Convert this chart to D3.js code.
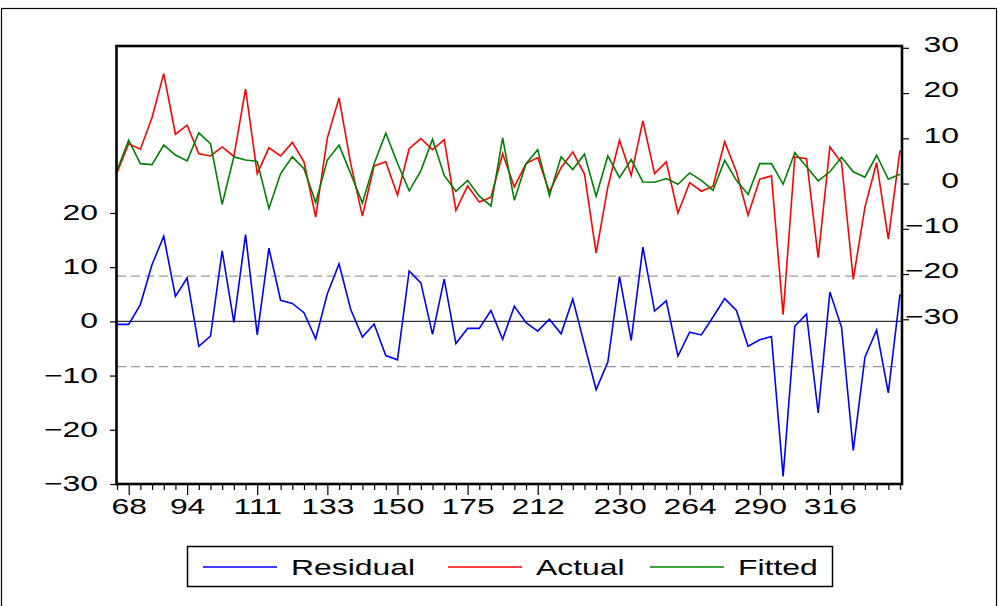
<!DOCTYPE html>
<html><head><meta charset="utf-8">
<script src="https://cdn.jsdelivr.net/npm/d3@7"></script>
<style>body{margin:0;background:#fff}svg{display:block}</style>
</head><body>
<svg id="c" width="999" height="606"></svg>
<script>
const residual = [-0.55,-0.55,3.1,10.5,15.7,4.6,8.0,-4.6,-2.7,13.0,
  -0.2,16.0,-2.5,13.5,3.9,3.3,1.6,-3.2,5.1,10.6,
  2.2,-2.9,-0.5,-6.3,-7.1,9.3,7.1,-2.4,7.8,-4.1,
  -1.3,-1.3,2.0,-3.3,2.8,-0.25,-1.8,0.4,-2.3,4.1,
  -4.3,-12.6,-7.5,8.3,-3.5,13.7,1.9,3.8,-6.4,-2.0,
  -2.5,0.8,4.2,2.0,-4.6,-3.4,-2.8,-28.6,-0.9,1.35,
  -16.9,5.4,-1.1,-23.8,-6.6,-1.6,-13.2,5.0];
const actual = [2.4,8.8,7.6,14.6,24.3,10.9,12.9,6.6,6.1,8.1,
  6.0,20.9,2.2,7.9,6.1,9.1,4.8,-7.4,10.1,18.9,
  4.4,-7.2,3.9,4.8,-2.6,7.7,9.95,7.5,9.7,-5.9,
  -0.5,-4.1,-3.0,6.6,-0.75,4.4,5.75,-1.85,3.5,7.0,
  2.1,-15.4,-0.75,9.6,1.8,13.85,2.2,4.8,-6.5,0.2,
  -1.7,-0.6,9.2,2.6,-7.0,0.95,1.7,-29.0,5.9,5.5,
  -16.4,8.1,4.6,-21.2,-5.2,4.6,-12.3,7.4];
const fitted = [2.9,9.6,4.4,4.2,8.5,6.3,5.0,11.2,8.8,-4.6,
  5.9,5.2,4.9,-5.5,2.2,5.9,3.3,-4.2,5.2,8.5,
  2.2,-4.3,4.4,11.1,4.5,-1.6,2.8,9.8,1.8,-1.7,
  0.7,-2.8,-4.95,10.1,-3.7,4.4,7.5,-2.7,5.9,3.1,
  6.5,-2.8,6.1,1.3,5.3,0.35,0.3,1.1,-0.15,2.35,
  0.7,-1.5,5.15,0.7,-2.4,4.4,4.4,-0.15,6.85,3.7,
  0.6,2.6,5.8,2.6,1.4,6.25,0.95,2.05];
const xTickIndex = [1,6,12,18,24,30,36,43,49,55,61];
const xTickLabels = ["68","94","111","133","150","175","212","230","264","290","316"];
const leftTicks = [20,10,0,-10,-20,-30];
const rightTicks = [30,20,10,0,-10,-20,-30];
const residSD = 8.34;
const seriesNames = ["Residual","Actual","Fitted"];
const seriesColors = ["#0000ff","#ff0000","#008000"];

const svg = d3.select("#c");
const L = 117, R = 902, T = 46, B = 484;
const SX = 1.45, FS = 22, FF = "'Liberation Sans', Arial, sans-serif";

const x = d3.scaleLinear().domain([0, residual.length - 1]).range([L, 900]);
const yL = d3.scaleLinear().domain([-30, 50.8]).range([B, T]);
const yR = d3.scaleLinear().domain([-66.4, 30.4]).range([B, T]);

// outer border
svg.append("rect").attr("x",1.5).attr("y",8.5).attr("width",995).attr("height",700)
  .attr("fill","none").attr("stroke","#000").attr("stroke-width",1.2);

// reference lines
svg.append("line").attr("x1",L).attr("x2",R).attr("y1",yL(0)).attr("y2",yL(0))
  .attr("stroke","#333").attr("stroke-width",1.3);
[residSD,-residSD].forEach(v=>{
  svg.append("line").attr("x1",L).attr("x2",R).attr("y1",yL(v)).attr("y2",yL(v))
    .attr("stroke","#9a9a9a").attr("stroke-width",1.2).attr("stroke-dasharray","9,5");
});

// series
const lineL = d3.line().x((d,i)=>x(i)).y(d=>yL(d));
const lineR = d3.line().x((d,i)=>x(i)).y(d=>yR(d));
svg.append("path").attr("d",lineR(actual)).attr("fill","none").attr("stroke",seriesColors[1]).attr("stroke-width",1.6);
svg.append("path").attr("d",lineR(fitted)).attr("fill","none").attr("stroke",seriesColors[2]).attr("stroke-width",1.6);
svg.append("path").attr("d",lineL(residual)).attr("fill","none").attr("stroke",seriesColors[0]).attr("stroke-width",1.6);

// x axis
const gx = svg.append("g").attr("transform",`translate(0,${B})`);
gx.call(d3.axisBottom(x).tickValues(d3.range(residual.length)).tickSize(6).tickFormat(""));
gx.select(".domain").remove();
gx.selectAll(".tick line").attr("stroke","#000").attr("stroke-width",1.2)
  .attr("y2",d=>xTickIndex.includes(d)?11:6);
const gxl = svg.append("g").attr("transform",`translate(0,${B})`);
gxl.call(d3.axisBottom(x).tickValues(xTickIndex).tickSize(0)
  .tickFormat((d,i)=>xTickLabels[i]));
gxl.select(".domain").remove();
gxl.selectAll(".tick text").attr("y",30).attr("dy",0).attr("font-size",FS)
  .attr("font-family",FF).attr("fill","#000").attr("transform",`scale(${SX},1)`);

// left axis
const gl = svg.append("g").attr("transform",`translate(${L},0)`);
gl.call(d3.axisLeft(yL).tickValues(leftTicks).tickSize(7).tickFormat(d3.format("d")));
gl.select(".domain").remove();
gl.selectAll(".tick line").attr("stroke","#000").attr("stroke-width",1.2);
gl.selectAll(".tick text").attr("x",-13.1).attr("y",-1.5).attr("dy","0.36em").attr("font-size",FS)
  .attr("font-family",FF).attr("fill","#000").attr("transform",`scale(${SX},1)`);

// right axis
const gr = svg.append("g").attr("transform",`translate(${R},0)`);
gr.call(d3.axisRight(yR).tickValues(rightTicks).tickSize(7).tickFormat(d3.format("d")));
gr.select(".domain").remove();
gr.selectAll(".tick line").attr("stroke","#000").attr("stroke-width",1.2);
gr.selectAll(".tick text").attr("x",57/SX).attr("y",-4).attr("text-anchor","end").attr("dy","0.36em")
  .attr("font-size",FS).attr("font-family",FF).attr("fill","#000")
  .attr("transform",`scale(${SX},1)`);

// frame
svg.append("rect").attr("x",L-0.5).attr("y",T).attr("width",R-L+0.5).attr("height",B-T)
  .attr("fill","none").attr("stroke","#000").attr("stroke-width",2.6);

// legend
const lg = svg.append("g");
lg.append("rect").attr("x",187.5).attr("y",546.5).attr("width",645).attr("height",40)
  .attr("fill","#fff").attr("stroke","#000").attr("stroke-width",1.5);
const legX = [203, 448, 650];
seriesNames.forEach((n,i)=>{
  lg.append("line").attr("x1",legX[i]).attr("x2",legX[i]+74).attr("y1",567).attr("y2",567)
    .attr("stroke",seriesColors[i]).attr("stroke-width",1.3);
  lg.append("text").attr("transform",`translate(${legX[i]+88},575) scale(${SX},1)`)
    .attr("font-size",FS).attr("font-family",FF).attr("fill","#000").text(n);
});
</script>
</body></html>
